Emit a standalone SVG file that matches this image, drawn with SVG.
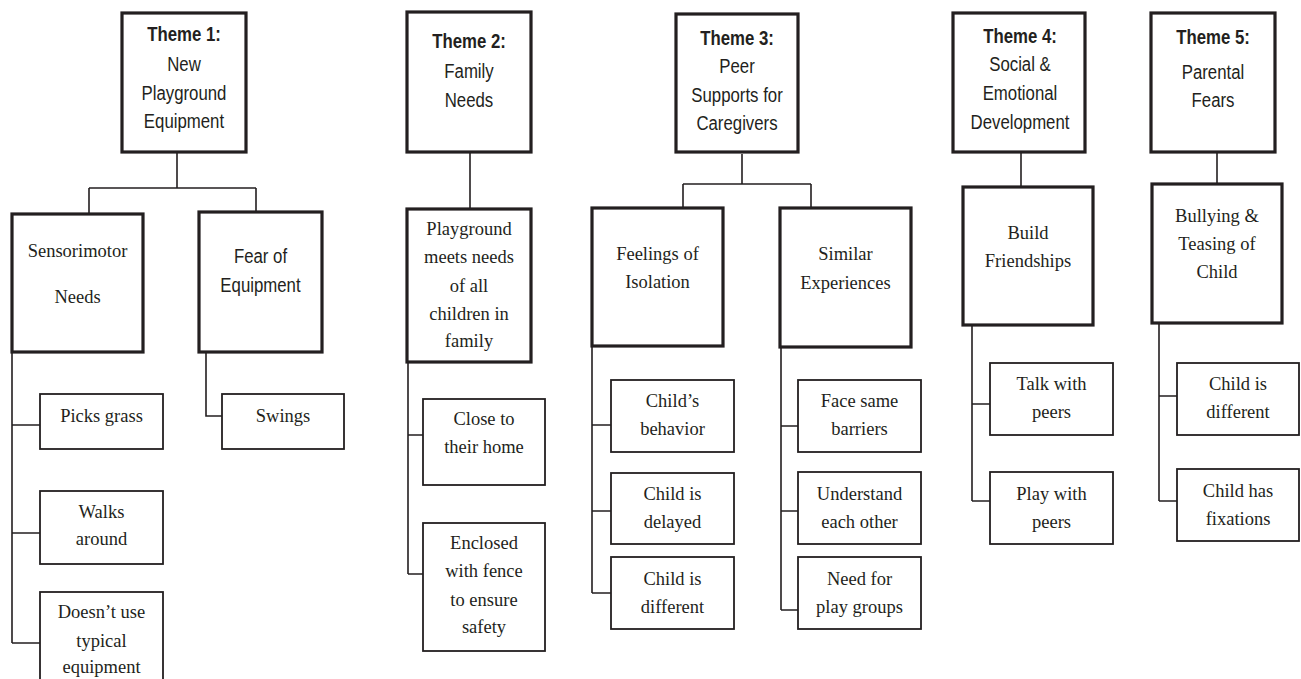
<svg xmlns="http://www.w3.org/2000/svg" width="1301" height="679" viewBox="0 0 1301 679">
<style>
.thick{fill:#fff;stroke:#231f20;stroke-width:3.2}
.thin{fill:#fff;stroke:#231f20;stroke-width:1.8}
.con{fill:none;stroke:#231f20;stroke-width:1.6}
.sans{font-family:"Liberation Sans",Arial,sans-serif;font-size:21px;fill:#231f20;text-anchor:middle}
.b{font-weight:bold}
.serif{font-family:"Liberation Serif","Times New Roman",serif;font-size:18.5px;fill:#231f20;text-anchor:middle}
</style>
<rect width="1301" height="679" fill="#fff"/>
<g id="connectors">
<path class="con" d="M177 152V188M89 188H256M89 188V214M256 188V212"/>
<path class="con" d="M12 352V643M12 425H40M12 533H40M12 643H40"/>
<path class="con" d="M206 352V416H222"/>
<path class="con" d="M470 152V209"/>
<path class="con" d="M408 362V574M408 435H423M408 574H423"/>
<path class="con" d="M742 154V184M683 184H811M683 184V208M811 184V208"/>
<path class="con" d="M592 346V593M592 425H611M592 511H611M592 593H611"/>
<path class="con" d="M781 347V610M781 426H798M781 511H798M781 610H798"/>
<path class="con" d="M1021 152V187"/>
<path class="con" d="M972 325V501M972 404H990M972 501H990"/>
<path class="con" d="M1217 152V184"/>
<path class="con" d="M1159 323V501M1159 396H1177M1159 501H1177"/>
</g>
<g id="theme1">
<rect class="thick" x="122" y="13" width="124" height="139"/>
<g transform="translate(184,0) scale(0.8,1)">
<text class="sans b" x="0" y="41">Theme 1:</text>
<text class="sans" x="0" y="71">New</text>
<text class="sans" x="0" y="100">Playground</text>
<text class="sans" x="0" y="128">Equipment</text>
</g>
</g>
<g id="sensorimotor">
<rect class="thick" x="12" y="214" width="131" height="138"/>
<text class="serif" x="77.5" y="257">Sensorimotor</text>
<text class="serif" x="77.5" y="303">Needs</text>
</g>
<g id="fear-equipment">
<rect class="thick" x="199" y="212" width="123" height="140"/>
<g transform="translate(260.5,0) scale(0.8,1)">
<text class="sans" x="0" y="263">Fear of</text>
<text class="sans" x="0" y="292">Equipment</text>
</g>
</g>
<g id="picks-grass">
<rect class="thin" x="40" y="394" width="123" height="55"/>
<text class="serif" x="101.5" y="422">Picks grass</text>
</g>
<g id="walks-around">
<rect class="thin" x="40" y="491" width="123" height="73"/>
<text class="serif" x="101.5" y="518">Walks</text>
<text class="serif" x="101.5" y="545">around</text>
</g>
<g id="doesnt-use">
<rect class="thin" x="40" y="592" width="123" height="100"/>
<text class="serif" x="101.5" y="618">Doesn’t use</text>
<text class="serif" x="101.5" y="647">typical</text>
<text class="serif" x="101.5" y="673">equipment</text>
</g>
<g id="swings">
<rect class="thin" x="222" y="394" width="122" height="55"/>
<text class="serif" x="283" y="422">Swings</text>
</g>
<g id="theme2">
<rect class="thick" x="407" y="12" width="124" height="140"/>
<g transform="translate(469,0) scale(0.8,1)">
<text class="sans b" x="0" y="48">Theme 2:</text>
<text class="sans" x="0" y="78">Family</text>
<text class="sans" x="0" y="107">Needs</text>
</g>
</g>
<g id="playground-needs">
<rect class="thick" x="407" y="209" width="124" height="153"/>
<text class="serif" x="469" y="235">Playground</text>
<text class="serif" x="469" y="263">meets needs</text>
<text class="serif" x="469" y="292">of all</text>
<text class="serif" x="469" y="320">children in</text>
<text class="serif" x="469" y="347">family</text>
</g>
<g id="close-home">
<rect class="thin" x="423" y="399" width="122" height="86"/>
<text class="serif" x="484" y="425">Close to</text>
<text class="serif" x="484" y="453">their home</text>
</g>
<g id="enclosed">
<rect class="thin" x="423" y="523" width="122" height="128"/>
<text class="serif" x="484" y="549">Enclosed</text>
<text class="serif" x="484" y="577">with fence</text>
<text class="serif" x="484" y="606">to ensure</text>
<text class="serif" x="484" y="633">safety</text>
</g>
<g id="theme3">
<rect class="thick" x="676" y="14" width="122" height="138"/>
<g transform="translate(737,0) scale(0.8,1)">
<text class="sans b" x="0" y="45">Theme 3:</text>
<text class="sans" x="0" y="73">Peer</text>
<text class="sans" x="0" y="102">Supports for</text>
<text class="sans" x="0" y="130">Caregivers</text>
</g>
</g>
<g id="feelings-isolation">
<rect class="thick" x="592" y="208" width="131" height="138"/>
<text class="serif" x="657.5" y="260">Feelings of</text>
<text class="serif" x="657.5" y="288">Isolation</text>
</g>
<g id="similar-experiences">
<rect class="thick" x="780" y="208" width="131" height="139"/>
<text class="serif" x="845.5" y="260">Similar</text>
<text class="serif" x="845.5" y="289">Experiences</text>
</g>
<g id="childs-behavior">
<rect class="thin" x="611" y="380" width="123" height="72"/>
<text class="serif" x="672.5" y="407">Child’s</text>
<text class="serif" x="672.5" y="435">behavior</text>
</g>
<g id="child-delayed">
<rect class="thin" x="611" y="473" width="123" height="71"/>
<text class="serif" x="672.5" y="500">Child is</text>
<text class="serif" x="672.5" y="528">delayed</text>
</g>
<g id="child-different-3">
<rect class="thin" x="611" y="557" width="123" height="72"/>
<text class="serif" x="672.5" y="585">Child is</text>
<text class="serif" x="672.5" y="613">different</text>
</g>
<g id="face-barriers">
<rect class="thin" x="798" y="380" width="123" height="72"/>
<text class="serif" x="859.5" y="407">Face same</text>
<text class="serif" x="859.5" y="435">barriers</text>
</g>
<g id="understand">
<rect class="thin" x="798" y="472" width="123" height="72"/>
<text class="serif" x="859.5" y="500">Understand</text>
<text class="serif" x="859.5" y="528">each other</text>
</g>
<g id="play-groups">
<rect class="thin" x="798" y="557" width="123" height="72"/>
<text class="serif" x="859.5" y="585">Need for</text>
<text class="serif" x="859.5" y="613">play groups</text>
</g>
<g id="theme4">
<rect class="thick" x="953" y="13" width="132" height="139"/>
<g transform="translate(1020,0) scale(0.8,1)">
<text class="sans b" x="0" y="43">Theme 4:</text>
<text class="sans" x="0" y="71">Social &amp;</text>
<text class="sans" x="0" y="100">Emotional</text>
<text class="sans" x="0" y="129">Development</text>
</g>
</g>
<g id="build-friendships">
<rect class="thick" x="963" y="187" width="130" height="138"/>
<text class="serif" x="1028" y="239">Build</text>
<text class="serif" x="1028" y="267">Friendships</text>
</g>
<g id="talk-peers">
<rect class="thin" x="990" y="363" width="123" height="72"/>
<text class="serif" x="1051.5" y="390">Talk with</text>
<text class="serif" x="1051.5" y="418">peers</text>
</g>
<g id="play-peers">
<rect class="thin" x="990" y="472" width="123" height="72"/>
<text class="serif" x="1051.5" y="500">Play with</text>
<text class="serif" x="1051.5" y="528">peers</text>
</g>
<g id="theme5">
<rect class="thick" x="1151" y="13" width="124" height="139"/>
<g transform="translate(1213,0) scale(0.8,1)">
<text class="sans b" x="0" y="44">Theme 5:</text>
<text class="sans" x="0" y="79">Parental</text>
<text class="sans" x="0" y="107">Fears</text>
</g>
</g>
<g id="bullying">
<rect class="thick" x="1152" y="184" width="130" height="139"/>
<text class="serif" x="1217" y="222">Bullying &amp;</text>
<text class="serif" x="1217" y="250">Teasing of</text>
<text class="serif" x="1217" y="278">Child</text>
</g>
<g id="child-different-5">
<rect class="thin" x="1177" y="363" width="122" height="72"/>
<text class="serif" x="1238" y="390">Child is</text>
<text class="serif" x="1238" y="418">different</text>
</g>
<g id="child-fixations">
<rect class="thin" x="1177" y="469" width="122" height="72"/>
<text class="serif" x="1238" y="497">Child has</text>
<text class="serif" x="1238" y="525">fixations</text>
</g>
</svg>
